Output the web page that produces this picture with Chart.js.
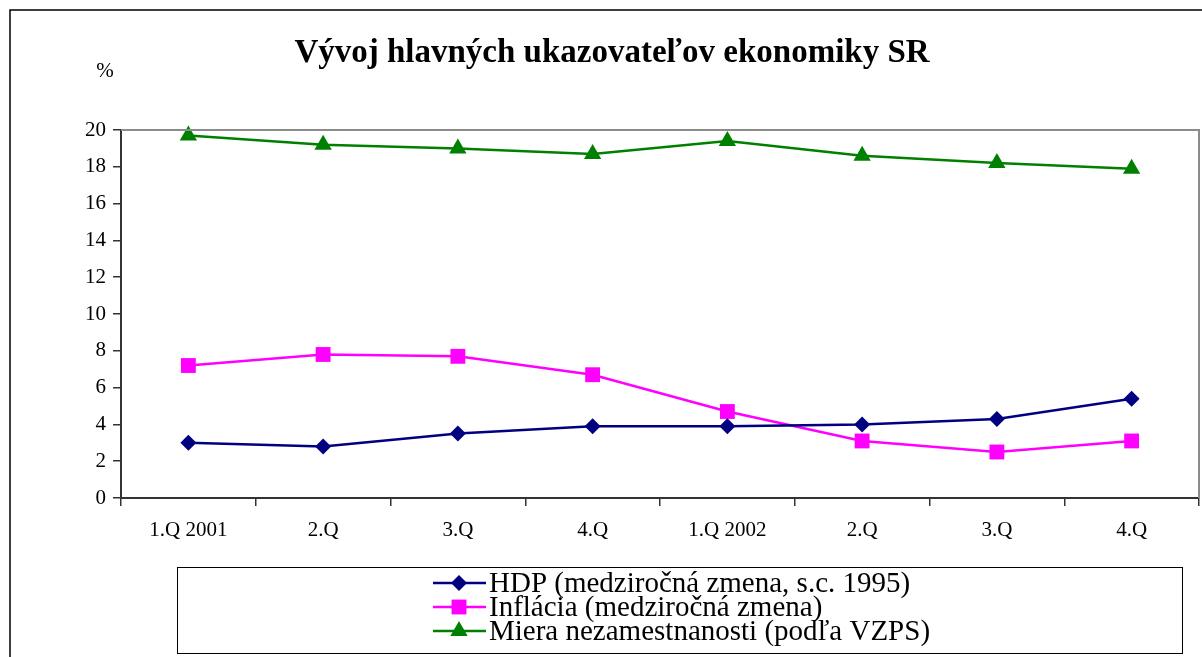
<!DOCTYPE html>
<html>
<head>
<meta charset="utf-8">
<script src="https://cdn.jsdelivr.net/npm/chart.js@4/dist/chart.umd.min.js"></script>
<style>
  html, body { margin: 0; padding: 0; background: #fff; }
  canvas { display: block; }
</style>
</head>
<body>
<canvas id="econChart" width="1202" height="657"></canvas>
<script>
// data
const quarters = ['1.Q 2001', '2.Q', '3.Q', '4.Q', '1.Q 2002', '2.Q', '3.Q', '4.Q'];
const hdp = [3.0, 2.8, 3.5, 3.9, 3.9, 4.0, 4.3, 5.4];
const inflacia = [7.2, 7.8, 7.7, 6.7, 4.7, 3.1, 2.5, 3.1];
const nezamestnanost = [19.7, 19.2, 19.0, 18.7, 19.4, 18.6, 18.2, 17.9];
const seriesNames = [
    'HDP (medziročná zmena, s.c. 1995)',
    'Inflácia (medziročná zmena)',
    'Miera nezamestnanosti (podľa VZPS)'
];
const yTicks = { min: 0, max: 20, step: 2 };

const SERIF = '"Liberation Serif", "Times New Roman", serif';

// title, % label, frames and the boxed legend
const decorPlugin = {
    id: 'decor',
    afterDraw(chart) {
        const ctx = chart.ctx;
        const area = chart.chartArea;
        ctx.save();

        // outer frame (only top and left visible in the crop)
        ctx.strokeStyle = '#000';
        ctx.lineWidth = 1.5;
        ctx.beginPath();
        ctx.moveTo(10, 657);
        ctx.lineTo(10, 10);
        ctx.lineTo(1202, 10);
        ctx.stroke();

        // plot border top + right
        ctx.strokeStyle = '#8c8c8c';
        ctx.lineWidth = 2;
        ctx.beginPath();
        ctx.moveTo(area.left, area.top);
        ctx.lineTo(area.right, area.top);
        ctx.lineTo(area.right, area.bottom);
        ctx.stroke();

        // title
        ctx.fillStyle = '#000';
        ctx.textAlign = 'center';
        ctx.textBaseline = 'middle';
        ctx.font = 'bold 33px ' + SERIF;
        ctx.fillText('Vývoj hlavných ukazovateľov ekonomiky SR', 612, 53);

        ctx.font = '21px ' + SERIF;
        ctx.fillText('%', 105, 71);

        // legend box
        ctx.strokeStyle = '#000';
        ctx.lineWidth = 1;
        ctx.strokeRect(177.5, 567.5, 1005, 86);

        ctx.textAlign = 'left';
        ctx.font = '29px ' + SERIF;
        chart.data.datasets.forEach((ds, i) => {
            const y = 583 + i * 24;
            ctx.strokeStyle = ds.borderColor;
            ctx.lineWidth = 2.5;
            ctx.beginPath();
            ctx.moveTo(433, y);
            ctx.lineTo(486, y);
            ctx.stroke();
            ctx.fillStyle = ds.pointBackgroundColor;
            Chart.helpers.drawPoint(ctx, {
                pointStyle: ds.pointStyle,
                radius: ds.pointRadius,
                borderWidth: 0,
                rotation: 0
            }, 459, y);
            ctx.fillStyle = '#000';
            ctx.fillText(seriesNames[i], 489, y + 1);
        });

        ctx.restore();
    }
};

new Chart(document.getElementById('econChart'), {
    type: 'line',
    data: {
        labels: quarters,
        datasets: [
            {
                label: seriesNames[0],
                data: hdp,
                borderColor: '#000080',
                backgroundColor: '#000080',
                pointBackgroundColor: '#000080',
                pointBorderWidth: 0,
                pointStyle: 'rectRot',
                pointRadius: 8,
                borderWidth: 2.5
            },
            {
                label: seriesNames[1],
                data: inflacia,
                borderColor: '#ff00ff',
                backgroundColor: '#ff00ff',
                pointBackgroundColor: '#ff00ff',
                pointBorderWidth: 0,
                pointStyle: 'rect',
                pointRadius: 10.5,
                borderWidth: 2.5
            },
            {
                label: seriesNames[2],
                data: nezamestnanost,
                borderColor: '#008000',
                backgroundColor: '#008000',
                pointBackgroundColor: '#008000',
                pointBorderWidth: 0,
                pointStyle: 'triangle',
                pointRadius: 10,
                borderWidth: 2.5
            }
        ]
    },
    options: {
        responsive: false,
        animation: false,
        clip: false,
        layout: {
            autoPadding: false,
            padding: { left: 0, top: 130, right: 3, bottom: 109 }
        },
        plugins: {
            legend: { display: false },
            title: { display: false },
            tooltip: { enabled: false }
        },
        elements: { line: { tension: 0 } },
        scales: {
            x: {
                offset: true,
                grid: {
                    offset: true,
                    drawOnChartArea: false,
                    tickLength: 8,
                    color: '#333',
                    lineWidth: 1.5
                },
                border: { color: '#333', width: 2 },
                ticks: {
                    color: '#000',
                    padding: 12,
                    maxRotation: 0,
                    autoSkip: false,
                    font: { family: SERIF, size: 21 }
                },
                afterFit(scale) {
                    scale.height = 50;
                    scale.paddingLeft = 0;
                    scale.paddingRight = 0;
                }
            },
            y: {
                min: yTicks.min,
                max: yTicks.max,
                ticks: {
                    stepSize: yTicks.step,
                    color: '#000',
                    padding: 7,
                    font: { family: SERIF, size: 21 }
                },
                grid: {
                    drawOnChartArea: false,
                    tickLength: 8,
                    color: '#333',
                    lineWidth: 1.5
                },
                border: { color: '#333', width: 2 },
                afterFit(scale) { scale.width = 121; }
            }
        }
    },
    plugins: [decorPlugin]
});
</script>
</body>
</html>
